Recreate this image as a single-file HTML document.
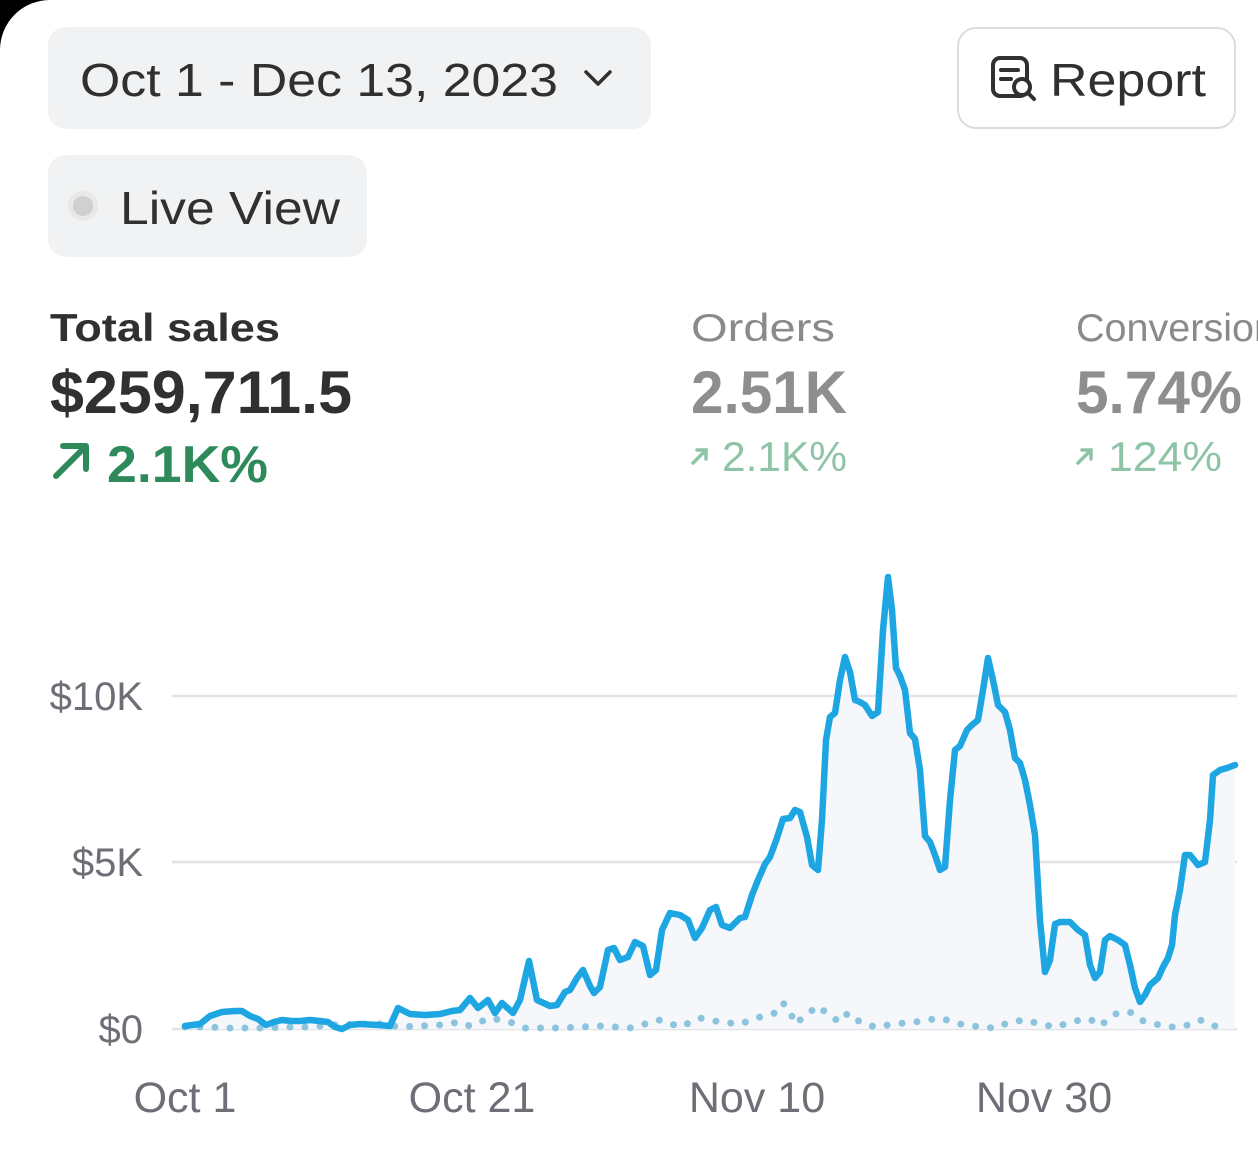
<!DOCTYPE html>
<html><head><meta charset="utf-8"><style>
html,body{margin:0;padding:0;background:#fff;width:1258px;height:1170px;overflow:hidden}
svg{display:block}
text{font-family:"Liberation Sans",Arial,sans-serif}
</style></head><body>
<svg width="1258" height="1170" viewBox="0 0 1258 1170">
<rect width="1258" height="1170" fill="#fff"/>
<path d="M0 0 H50 A50 50 0 0 0 0 50 Z" fill="#000"/>
<rect x="48" y="27" width="603" height="102" rx="18" fill="#f1f2f3"/>
<text x="80" y="96" font-size="46" fill="#303030" textLength="478" lengthAdjust="spacingAndGlyphs">Oct 1 - Dec 13, 2023</text>
<path d="M586 72 L598 84 L610 72" fill="none" stroke="#303030" stroke-width="3.5" stroke-linecap="round" stroke-linejoin="round"/>
<rect x="958" y="28" width="277" height="100" rx="18" fill="#fff" stroke="#dcdcdc" stroke-width="2"/>
<rect x="993" y="58" width="34" height="38" rx="7" fill="none" stroke="#303030" stroke-width="4"/>
<path d="M1001 70 H1018 M1001 79 H1011" stroke="#303030" stroke-width="4" stroke-linecap="round"/>
<circle cx="1022" cy="87" r="8" fill="#fff" stroke="#303030" stroke-width="4"/>
<path d="M1028 93 L1034 99" stroke="#303030" stroke-width="4" stroke-linecap="round"/>
<text x="1050" y="96" font-size="46" fill="#303030" textLength="156" lengthAdjust="spacingAndGlyphs">Report</text>
<rect x="48" y="155" width="319" height="102" rx="18" fill="#f1f2f3"/>
<circle cx="83" cy="206" r="15" fill="#e8e8e8"/>
<circle cx="83" cy="206" r="10" fill="#d0d0d0"/>
<text x="120" y="224" font-size="46" fill="#303030" textLength="220" lengthAdjust="spacingAndGlyphs">Live View</text>
<text x="50" y="341" font-size="39" font-weight="bold" fill="#303030" textLength="230" lengthAdjust="spacingAndGlyphs">Total sales</text>
<text x="50" y="413" font-size="60" font-weight="bold" fill="#303030" textLength="302" lengthAdjust="spacingAndGlyphs">$259,711.5</text>
<path d="M56 476 L86 446 M63 446 H86 V469" fill="none" stroke="#2e8a5a" stroke-width="6" stroke-linecap="round" stroke-linejoin="round"/>
<text x="107" y="482" font-size="52" font-weight="bold" fill="#2e8a5a" textLength="161" lengthAdjust="spacingAndGlyphs">2.1K%</text>
<text x="691" y="341" font-size="39" fill="#8a8a8a" textLength="144" lengthAdjust="spacingAndGlyphs">Orders</text>
<text x="691" y="413" font-size="60" font-weight="bold" fill="#8e8e8e" textLength="156" lengthAdjust="spacingAndGlyphs">2.51K</text>
<path d="M693 463 L706 450 M697 450 H706 V459" fill="none" stroke="#8ec4a6" stroke-width="3.5" stroke-linecap="round"/>
<text x="722" y="471" font-size="42" fill="#8ec4a6" textLength="125" lengthAdjust="spacingAndGlyphs">2.1K%</text>
<text x="1076" y="341" font-size="39" fill="#8a8a8a" textLength="200" lengthAdjust="spacingAndGlyphs">Conversion</text>
<text x="1076" y="413" font-size="60" font-weight="bold" fill="#8e8e8e" textLength="166" lengthAdjust="spacingAndGlyphs">5.74%</text>
<path d="M1078 463 L1091 450 M1082 450 H1091 V459" fill="none" stroke="#8ec4a6" stroke-width="3.5" stroke-linecap="round"/>
<text x="1108" y="471" font-size="42" fill="#8ec4a6" textLength="114" lengthAdjust="spacingAndGlyphs">124%</text>
<g stroke="#e3e3e5" stroke-width="2.5">
<line x1="172" y1="696" x2="1237" y2="696"/>
<line x1="172" y1="862" x2="1237" y2="862"/>
<line x1="172" y1="1029" x2="1237" y2="1029"/>
</g>
<g font-size="40" fill="#6e6e76" text-anchor="end">
<text x="143" y="710">$10K</text>
<text x="143" y="876">$5K</text>
<text x="143" y="1043">$0</text>
</g>
<g font-size="43" fill="#6e6e76" text-anchor="middle">
<text x="185" y="1112">Oct 1</text>
<text x="472" y="1112">Oct 21</text>
<text x="757" y="1112">Nov 10</text>
<text x="1044" y="1112">Nov 30</text>
</g>
<path id="a" d="M185,1026 L200,1024 205,1020 210,1016 222,1012 235,1011 242,1011 250,1016 258,1019 266,1025 274,1022 282,1020 292,1021 300,1021 310,1020 320,1021 328,1022 335,1027 342,1029 350,1025 360,1024 378,1025 390,1026 398,1008 410,1014 425,1015 440,1014 452,1011 460,1010 470,998 478,1008 488,1000 495,1013 502,1003 513,1013 520,1000 529,961 537,1000 550,1006 557,1005 565,992 570,990 577,978 583,970 590,986 594,993 600,987 608,950 614,948 620,960 628,957 635,942 643,946 650,975 656,970 662,930 670,913 680,915 688,920 695,938 702,928 710,910 716,907 722,925 730,928 740,918 745,917 752,895 758,880 765,864 770,857 777,838 783,819 790,818 795,810 800,812 807,837 812,865 818,870 822,820 826,740 830,717 835,713 840,680 845,657 850,672 855,700 860,702 865,705 872,716 878,712 883,630 888,577 892,610 896,668 900,676 905,690 910,733 915,739 920,770 925,836 930,842 935,855 940,870 945,867 950,800 955,750 960,746 967,730 972,725 978,720 983,690 988,658 993,680 998,705 1005,712 1010,730 1015,758 1020,763 1025,780 1030,805 1035,835 1040,920 1045,972 1050,960 1055,924 1060,922 1070,922 1078,930 1085,935 1090,965 1095,978 1100,972 1105,940 1110,936 1118,940 1125,945 1130,965 1135,988 1140,1002 1145,995 1150,985 1158,978 1163,967 1168,958 1172,945 1175,915 1180,890 1185,855 1190,855 1198,865 1205,862 1210,820 1213,775 1220,770 1227,768 1235,765" fill="none"/>
<path d="M185,1026 L200,1024 205,1020 210,1016 222,1012 235,1011 242,1011 250,1016 258,1019 266,1025 274,1022 282,1020 292,1021 300,1021 310,1020 320,1021 328,1022 335,1027 342,1029 350,1025 360,1024 378,1025 390,1026 398,1008 410,1014 425,1015 440,1014 452,1011 460,1010 470,998 478,1008 488,1000 495,1013 502,1003 513,1013 520,1000 529,961 537,1000 550,1006 557,1005 565,992 570,990 577,978 583,970 590,986 594,993 600,987 608,950 614,948 620,960 628,957 635,942 643,946 650,975 656,970 662,930 670,913 680,915 688,920 695,938 702,928 710,910 716,907 722,925 730,928 740,918 745,917 752,895 758,880 765,864 770,857 777,838 783,819 790,818 795,810 800,812 807,837 812,865 818,870 822,820 826,740 830,717 835,713 840,680 845,657 850,672 855,700 860,702 865,705 872,716 878,712 883,630 888,577 892,610 896,668 900,676 905,690 910,733 915,739 920,770 925,836 930,842 935,855 940,870 945,867 950,800 955,750 960,746 967,730 972,725 978,720 983,690 988,658 993,680 998,705 1005,712 1010,730 1015,758 1020,763 1025,780 1030,805 1035,835 1040,920 1045,972 1050,960 1055,924 1060,922 1070,922 1078,930 1085,935 1090,965 1095,978 1100,972 1105,940 1110,936 1118,940 1125,945 1130,965 1135,988 1140,1002 1145,995 1150,985 1158,978 1163,967 1168,958 1172,945 1175,915 1180,890 1185,855 1190,855 1198,865 1205,862 1210,820 1213,775 1220,770 1227,768 1235,765 L1235,1029 L185,1029 Z" fill="#f5f7fa"/>
<polyline points="185,1027 205,1027 230,1028 260,1028 290,1027 310,1027 330,1025 360,1024 380,1024 400,1027 420,1026 440,1025 460,1022 470,1026 490,1018 510,1022 525,1028 560,1028 600,1026 630,1028 660,1020 680,1027 700,1018 720,1022 740,1024 760,1017 775,1013 783,1003 790,1011 795,1024 810,1012 818,1006 830,1016 840,1022 848,1013 860,1022 875,1027 895,1024 915,1022 940,1018 960,1024 980,1027 995,1028 1010,1022 1025,1020 1040,1024 1055,1027 1075,1021 1090,1019 1100,1026 1115,1014 1130,1012 1140,1020 1155,1024 1170,1027 1185,1026 1200,1020 1215,1026" fill="none" stroke="#8cc4de" stroke-width="7" stroke-linecap="round" stroke-dasharray="0 15"/>
<use href="#a" stroke="#1ea6e3" stroke-width="6.5" stroke-linejoin="round" stroke-linecap="round"/>
</svg>
</body></html>
